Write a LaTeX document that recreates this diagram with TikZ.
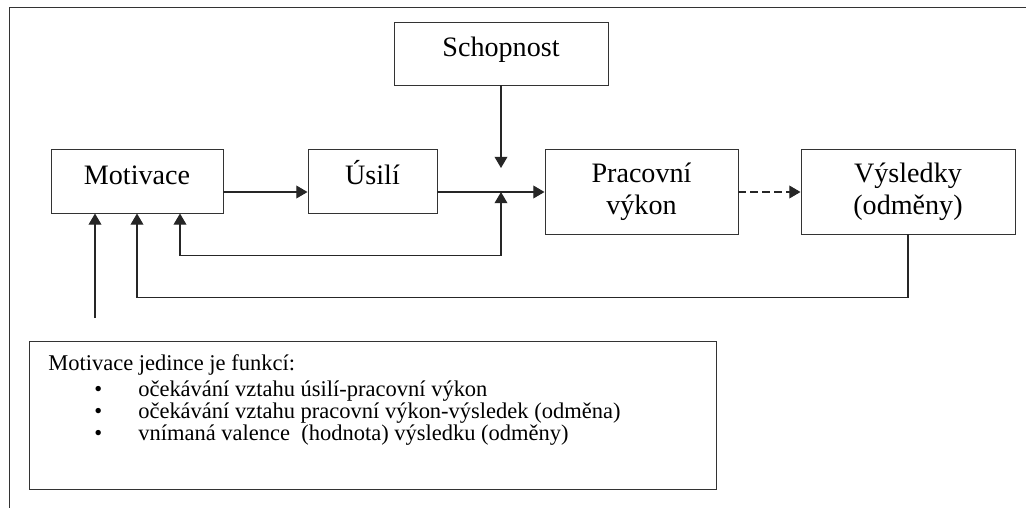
\documentclass[tikz,border=0pt]{standalone}
\usepackage{fontspec}
\setmainfont{Liberation Serif}
\usetikzlibrary{arrows.meta}

\tikzset{
  box/.style={draw=black!80,line width=0.7pt,align=center,font=\fontsize{20}{23}\selectfont,inner sep=0pt},
  onebox/.style={box,text height=0.5cm,text depth=0.35cm},
  link/.style={black!85,line width=0.8pt,-{Triangle[length=2.8mm,width=3.2mm]}},
  listtext/.style={anchor=base west,font=\fontsize{16}{19}\selectfont,inner sep=0pt}
}

\begin{document}
\begin{tikzpicture}
  \useasboundingbox (0,0) rectangle (25.65,-12.7);
  \draw[black!80,line width=0.7pt] (0.225,-12.7) -- (0.225,-0.175) -- (25.65,-0.175);

  % boxes
  \node[onebox,minimum width=4.3cm,minimum height=1.6cm] (mot) at (3.425,-4.525) {Motivace};
  \node[onebox,minimum width=3.225cm,minimum height=1.6cm] (usili) at (9.3125,-4.525) {Úsilí};
  \node[onebox,minimum width=5.35cm,minimum height=1.575cm] (schop) at (12.525,-1.3375) {Schopnost};
  \node[box,minimum width=4.825cm,minimum height=2.125cm] (prac) at (16.0375,-4.7875) {Pracovní\\výkon};
  \node[box,minimum width=5.35cm,minimum height=2.125cm] (vys) at (22.7,-4.7875) {Výsledky\\(odměny)};
  \node[draw=black!80,line width=0.7pt,minimum width=17.175cm,minimum height=3.7cm] (info) at (9.3125,-10.375) {};

  % text of the bottom box
  \node[listtext] (head) at (1.2,-9.25) {Motivace jedince je funkcí:};
  \node[listtext] (b1) at (2.35,-9.9) {•};
  \node[listtext] (t1) at (3.45,-9.9) {očekávání vztahu úsilí-pracovní výkon};
  \node[listtext] (b2) at (2.35,-10.45) {•};
  \node[listtext] (t2) at (3.45,-10.45) {očekávání vztahu pracovní výkon-výsledek (odměna)};
  \node[listtext] (b3) at (2.35,-11.0) {•};
  \node[listtext] (t3) at (3.45,-11.0) {vnímaná valence\ \ (hodnota) výsledku (odměny)};

  % connectors
  \coordinate (j) at (12.525,-4.8);
  \coordinate (jt) at (12.525,-4.2);
  \coordinate (in) at (2.375,-7.95);
  \draw[link] (mot.east |- j) -- (usili.west |- j);
  \draw[link] (usili.east |- j) -- (prac.west |- j);
  \draw[link,dash pattern=on 0.18cm off 0.12cm] (prac.east |- j) -- (vys.west |- j);
  \draw[link] (schop) -- (jt);
  \draw[link,{Triangle[length=2.8mm,width=3.2mm]}-{Triangle[length=2.8mm,width=3.2mm]}] ([xshift=1.075cm]mot.south) -- ++(0,-1.05) -| (j);
  \draw[link] (vys.south) -- ++(0,-1.575) -| (mot.south);
  \draw[link] (in) -- ([xshift=-1.05cm]mot.south);
\end{tikzpicture}
\end{document}
